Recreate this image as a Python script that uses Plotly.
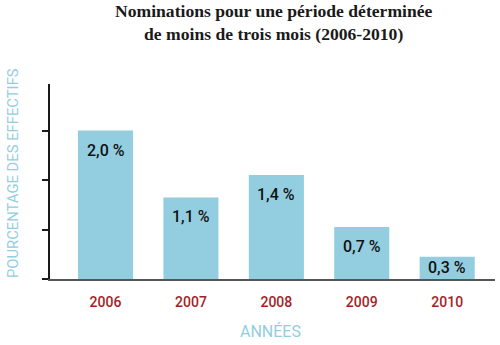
import plotly.graph_objects as go

years = ["2006", "2007", "2008", "2009", "2010"]
values = [2.0, 1.1, 1.4, 0.7, 0.3]
labels = ["2,0 %", "1,1 %", "1,4 %", "0,7 %", "0,3 %"]
ytick_vals = [0, 2/3, 4/3, 2.0, 8/3]

BAR = "#93CEE0"
RED = "#A51E26"
NARROW = "Roboto, Liberation Sans, sans-serif"

W, H = 500, 345
ml, mr, mt, mb = 50, 5, 84, 66
pw = W - ml - mr
ph = H - mt - mb

fig = go.Figure()
fig.add_trace(go.Bar(
    x=years, y=values, marker=dict(color=BAR, line=dict(width=0)),
    width=0.645, hoverinfo="skip",
))

# value labels inside the bars (category index used as x position)
for i, (v, t) in enumerate(zip(values, labels)):
    if v < 0.5:
        fig.add_annotation(x=i, y=v / 2, text=t, showarrow=False, yanchor="middle",
                           font=dict(family=NARROW, size=16, color="#111", weight=500))
    else:
        fig.add_annotation(x=i, y=v, text=t, showarrow=False, yanchor="top", yshift=-8,
                           font=dict(family=NARROW, size=16, color="#111", weight=500))

fig.add_annotation(xref="paper", yref="paper",
                   x=(12.5 - ml) / pw, y=(H - mb - 173.5) / ph,
                   text="POURCENTAGE DES EFFECTIFS", textangle=-90, showarrow=False,
                   xanchor="center", yanchor="middle",
                   font=dict(family=NARROW, size=14.8, color=BAR))
fig.add_annotation(xref="paper", yref="paper",
                   x=(270 - ml) / pw, y=-(331 - (H - mb)) / ph,
                   text="ANNÉES", showarrow=False, xanchor="center", yanchor="middle",
                   font=dict(family=NARROW, size=16, color=BAR))
fig.add_annotation(xref="paper", yref="paper",
                   x=(274 - ml) / pw, y=1 + (mt + 1) / ph, xanchor="center", yanchor="top",
                   text="<b>Nominations pour une période déterminée<br>de moins de trois mois (2006-2010)</b>",
                   showarrow=False,
                   font=dict(family="Liberation Serif, Times New Roman, serif", size=17.6, color="#1a1a1a"))

fig.update_layout(
    width=W, height=H,
    margin=dict(l=ml, r=mr, t=mt, b=mb),
    plot_bgcolor="white", paper_bgcolor="white",
    showlegend=False,
    xaxis=dict(type="category", range=[-0.65, 4.56], showline=True, linecolor="#555", linewidth=2,
               ticks="outside", ticklen=9, tickcolor="rgba(0,0,0,0)",
               tickfont=dict(family=NARROW, size=14, color=RED, weight=500),
               showgrid=False, zeroline=False),
    yaxis=dict(range=[0, ph / 74.2], showline=True, linecolor="#1a1a1a", linewidth=1.5,
               tickvals=ytick_vals, ticks="outside", ticklen=6, tickwidth=1.5, tickcolor="#1a1a1a",
               showticklabels=False, showgrid=False, zeroline=False),
)

fig.write_html("out.html")
